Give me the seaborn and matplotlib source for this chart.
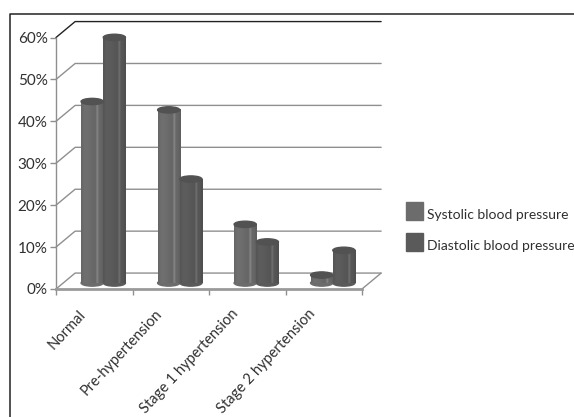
import matplotlib
matplotlib.use('Agg')
import matplotlib.pyplot as plt
from matplotlib.lines import Line2D
from matplotlib.patches import Ellipse, Rectangle
import numpy as np
import pandas as pd
import seaborn as sns

# Values
categories = ['Normal', 'Pre-hypertension', 'Stage 1 hypertension', 'Stage 2 hypertension']
series_names = ['Systolic blood pressure', 'Diastolic blood pressure']
systolic = [43.3, 41.3, 14, 1.9]
diastolic = [58.6, 24.8, 9.8, 7.8]
y_ticks = [0, 10, 20, 30, 40, 50, 60]

sns.set_style('white')
plt.rcParams['font.family'] = ['Lato', 'DejaVu Sans']

data = pd.DataFrame({
    'category': categories * 2,
    'value': systolic + diastolic,
    'series': [series_names[0]] * 4 + [series_names[1]] * 4,
})

W, H = 574, 417
fig = plt.figure(figsize=(W / 100, H / 100), dpi=100)
ax = fig.add_axes([56 / W, (H - 289) / H, 306 / W, 251.5 / H])

colors = ['#6c6c6c', '#5a5a5a']
sns.barplot(data=data, x='category', y='value', hue='series', palette=colors,
            width=0.58, gap=0, saturation=1, legend=False, ax=ax, zorder=3)
ax.set_xlim(-0.5, 3.5)
ax.set_ylim(0, 60)

# 3D look: the back wall and floor sit up and to the right of the front plane
depth_x, depth_y = 0.25, 3.8
grid_col = '#8f8f8f'
for v in y_ticks:
    col = '#222222' if v == 60 else grid_col
    ax.plot([-0.5, -0.5 + depth_x, 3.5 + depth_x], [v, v + depth_y, v + depth_y],
            color=col, lw=1.0, clip_on=False, zorder=1)
ax.plot([3.5, 3.5 + depth_x], [0, depth_y], color=grid_col, lw=1.0, clip_on=False, zorder=1)

# Cylinders: shade each bar across its width, then cap it
shift_x, shift_y = 0.118, 1.43
profile = np.array([0.96, 1.02, 1.03, 1.02, 1.0, 0.98, 0.96, 0.94, 1.22, 0.96, 0.94, 0.88])
for c, container in zip(colors, ax.containers):
    base = np.array(matplotlib.colors.to_rgb(c))
    for bar in container:
        x0 = bar.get_x() + shift_x
        w = bar.get_width()
        top = bar.get_height() + shift_y
        bar.set_visible(False)
        shade = np.clip(base[None, None, :] * profile[None, :, None], 0, 1)
        ax.imshow(shade, extent=[x0, x0 + w, shift_y, top], aspect='auto',
                  interpolation='bilinear', zorder=3, clip_on=False)
        ax.add_patch(Ellipse((x0 + w / 2, shift_y), w, 1.5, color=c, zorder=2.9, clip_on=False))
        ax.add_patch(Ellipse((x0 + w / 2, top), w, 1.5, color='#525252', zorder=3.1, clip_on=False))
ax.set_xlim(-0.5, 3.5)
ax.set_ylim(0, 60)
ax.set_aspect('auto')

# Axes and ticks
sns.despine(ax=ax, top=True, right=True)
ax.spines['left'].set_color(grid_col)
ax.spines['left'].set_linewidth(1)
ax.spines['bottom'].set_color('#9a9a9a')
ax.spines['bottom'].set_linewidth(2)
ax.set_yticks(y_ticks)
ax.set_yticklabels([f'{v}%' for v in y_ticks], fontsize=11, color='#303030')
ax.set_xticks([-0.5, 0.5, 1.5, 2.5, 3.5])
ax.set_xticklabels([])
ax.set_xticks(np.arange(4) - 0.21, categories, minor=True, rotation=47, ha='right',
              rotation_mode='anchor', fontsize=10.5, color='#303030')
ax.tick_params(axis='both', which='major', length=4, width=1, color=grid_col,
               left=True, bottom=True, pad=2)
ax.tick_params(axis='x', which='minor', length=0, pad=13)
ax.set_xlabel('')
ax.set_ylabel('')

# Legend by hand: the text sits lower than the swatch centre in the original
for name, c, y_top in zip(series_names, colors, [202, 233]):
    fig.add_artist(Rectangle((406 / W, (H - y_top - 18) / H), 17 / W, 18 / H,
                             color=c, transform=fig.transFigure))
    fig.text(427 / W, (H - y_top - 13) / H, name, fontsize=10, color='#303030',
             ha='left', va='center')

# Outer chart frame, running off the right and bottom of the image
fig.add_artist(Line2D([10 / W, 10 / W, 1], [0, (H - 14) / H, (H - 14) / H],
                      color='#222222', lw=1.1))

fig.savefig('out.png', dpi=100)
